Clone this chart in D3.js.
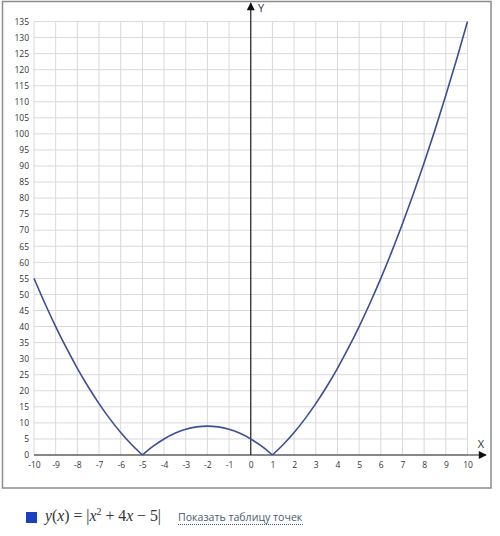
<!DOCTYPE html>
<html lang="ru">
<head>
	<meta charset="UTF-8">
	<title>y(x) = |x^2+4x-5|</title>
	<script src="https://cdn.jsdelivr.net/npm/d3@7"></script>
	<style>
		html,body{
			margin:0;
			padding:0;
			background:#fff;
		}
		svg{
			display:block;
		}
		.tick text{
			font-family:"Open Sans","DejaVu Sans",sans-serif;
			font-size:8.5px;
			fill:#333;
		}
		.grid line{
			stroke:#d9d9d9;
			stroke-width:1;
		}
		.link{
			font-family:"Open Sans","DejaVu Sans",sans-serif;
			font-size:10.6px;
			fill:#4a5878;
		}
		.formula{
			font-family:"Liberation Serif","DejaVu Serif",serif;
			font-size:16px;
			fill:#333;
		}
	</style>
</head>
<body>
	<svg id="svg" width="500" height="536"></svg>
	<script>
		// points (half-step in x)
		var xVals = [-10,-9.5,-9,-8.5,-8,-7.5,-7,-6.5,-6,-5.5,-5,-4.5,-4,-3.5,-3,-2.5,-2,-1.5,-1,-0.5,0,
			0.5,1,1.5,2,2.5,3,3.5,4,4.5,5,5.5,6,6.5,7,7.5,8,8.5,9,9.5,10];
		var yVals = [55,47.25,40,33.25,27,21.25,16,11.25,7,3.25,0,2.75,5,6.75,8,8.75,9,8.75,8,6.75,5,
			2.75,0,3.25,7,11.25,16,21.25,27,33.25,40,47.25,55,63.25,72,81.25,91,101.25,112,123.25,135];
		var xTicks = d3.range(-10,11,1);
		var yTicks = d3.range(0,136,5);

		var svg = d3.select("svg");
		var x = d3.scaleLinear().domain([-10,10]).range([34,467.5]);
		var y = d3.scaleLinear().domain([0,135]).range([455,21.5]);

		// frame
		svg.append("rect")
			.attr("x",2.5).attr("y",1.5)
			.attr("width",488.5).attr("height",486.5)
			.attr("fill","none")
			.attr("stroke","#8c8c8c")
			.attr("stroke-width",1.5);

		// grid
		var grid = svg.append("g").attr("class","grid");
		grid.selectAll(".v").data(xTicks).enter().append("line")
			.attr("x1",d=>x(d)).attr("x2",d=>x(d))
			.attr("y1",y(0)).attr("y2",y(135));
		grid.selectAll(".h").data(yTicks).enter().append("line")
			.attr("x1",x(-10)).attr("x2",x(10))
			.attr("y1",d=>y(d)).attr("y2",d=>y(d));

		// tick labels (plain hyphen for negatives, like the original)
		var fmt = d=>String(d);
		svg.append("g")
			.attr("transform","translate(0,"+y(0)+")")
			.call(d3.axisBottom(x).tickValues(xTicks).tickSize(0).tickPadding(7).tickFormat(fmt))
			.call(g=>g.select(".domain").remove());
		svg.append("g")
			.attr("transform","translate("+(x(-10)-1)+",0)")
			.call(d3.axisLeft(y).tickValues(yTicks).tickSize(0).tickPadding(4).tickFormat(fmt))
			.call(g=>g.select(".domain").remove());

		// axes with arrows
		var defs = svg.append("defs");
		defs.append("marker")
			.attr("id","arrow")
			.attr("viewBox","0 0 10 10")
			.attr("refX",9).attr("refY",5)
			.attr("markerWidth",10).attr("markerHeight",8)
			.attr("markerUnits","userSpaceOnUse")
			.attr("orient","auto")
			.append("path")
			.attr("d","M0,0L10,5L0,10z")
			.attr("fill","#111");

		svg.append("line")
			.attr("x1",x(-10)).attr("x2",486)
			.attr("y1",y(0)).attr("y2",y(0))
			.attr("stroke","#222").attr("stroke-width",1.2)
			.attr("marker-end","url(#arrow)");
		svg.append("line")
			.attr("x1",x(0)).attr("x2",x(0))
			.attr("y1",y(0)).attr("y2",3)
			.attr("stroke","#222").attr("stroke-width",1.2)
			.attr("marker-end","url(#arrow)");

		svg.append("text").text("X")
			.attr("x",481).attr("y",448)
			.attr("text-anchor","middle")
			.style("font-family","'Open Sans',sans-serif").style("font-size","11px").attr("fill","#333");
		svg.append("text").text("Y")
			.attr("x",261).attr("y",12)
			.attr("text-anchor","middle")
			.style("font-family","'Open Sans',sans-serif").style("font-size","11px").attr("fill","#333");

		// curve, split at the zero points so the corners stay sharp
		var pts = xVals.map((d,i)=>({x:d,y:yVals[i]}));
		var segs = [[]];
		pts.forEach((p,i)=>{
			segs[segs.length-1].push(p);
			if(p.y===0 && i>0 && i<pts.length-1) segs.push([p]);
		});
		var line = d3.line().x(d=>x(d.x)).y(d=>y(d.y)).curve(d3.curveMonotoneX);
		svg.selectAll(".curve").data(segs).enter().append("path")
			.attr("class","curve")
			.attr("d",line)
			.attr("fill","none")
			.attr("stroke","#3d4f94")
			.attr("stroke-width",1.6);

		// legend
		svg.append("rect")
			.attr("x",26).attr("y",512)
			.attr("width",11).attr("height",11)
			.attr("fill","#1b3fc0");

		var f = svg.append("text").attr("class","formula").attr("x",45).attr("y",521);
		f.append("tspan").text("y").style("font-style","italic");
		f.append("tspan").text("(");
		f.append("tspan").text("x").style("font-style","italic");
		f.append("tspan").text(") = |");
		f.append("tspan").text("x").style("font-style","italic");
		f.append("tspan").text("2").attr("dy",-6).style("font-size","10px");
		f.append("tspan").text(" + 4").attr("dy",6);
		f.append("tspan").text("x").style("font-style","italic");
		f.append("tspan").text(" − 5|");
		var fw = f.node().getComputedTextLength();
		if(fw>116) f.attr("textLength",116).attr("lengthAdjust","spacingAndGlyphs");

		var link = svg.append("text").attr("class","link")
			.attr("x",178).attr("y",521)
			.text("Показать таблицу точек");
		var bb = link.node().getBBox();
		svg.append("line")
			.attr("x1",bb.x).attr("x2",bb.x+bb.width)
			.attr("y1",524.5).attr("y2",524.5)
			.attr("stroke","#4a5878")
			.attr("stroke-dasharray","1,1");
	</script>
</body>
</html>
